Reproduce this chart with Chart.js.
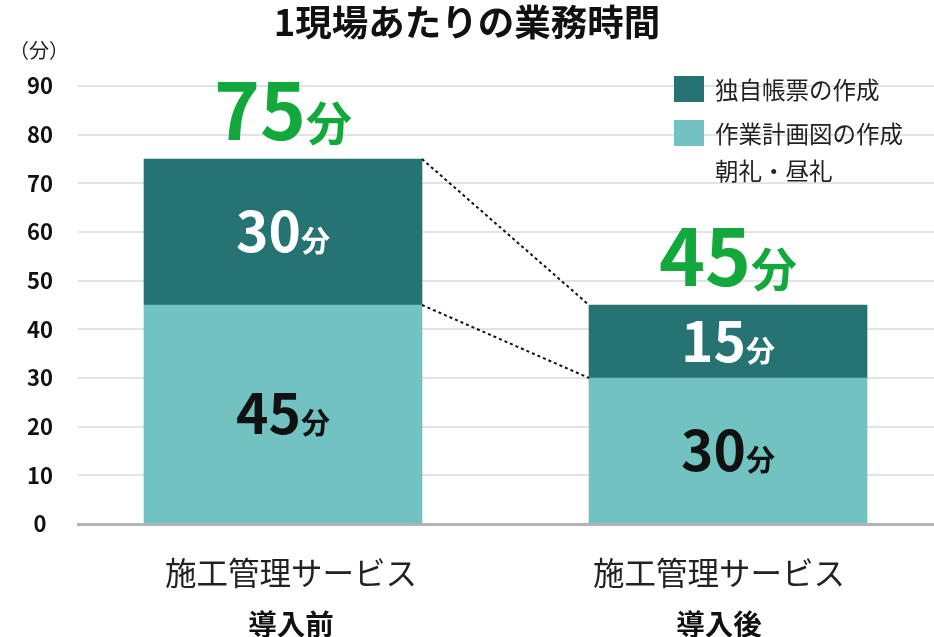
<!DOCTYPE html>
<html lang="ja">
<head>
<meta charset="utf-8">
<script src="https://cdn.jsdelivr.net/npm/chart.js@4/dist/chart.umd.min.js"></script>
<style>
  html, body { margin: 0; padding: 0; background: #ffffff; }
  #wrap { width: 934px; height: 637px; position: relative; }
</style>
</head>
<body>
<div id="wrap"><canvas id="c"></canvas></div>
<script>
// ---- data ----
const chartTitle = '1現場あたりの業務時間';
const unitLabel = '（分）';
const unitSuffix = '分';
const categoriesTop = ['施工管理サービス', '施工管理サービス'];
const categoriesBottom = ['導入前', '導入後'];
const seriesNames = [['作業計画図の作成', '朝礼・昼礼'], ['独自帳票の作成']];
const planningValues = [45, 30];   // 作業計画図の作成・朝礼・昼礼 (bottom)
const formValues = [30, 15];       // 独自帳票の作成 (top)
const yTicks = [0, 10, 20, 30, 40, 50, 60, 70, 80, 90];

const FONT = '"Noto Sans CJK JP", "Noto Sans", sans-serif';
const LIGHT = '#72C2C2';
const DARK = '#267373';
const GREEN = '#12A83C';

const toPoints = arr => arr.map((v, i) => ({ x: i, y: v }));

const labelPlugin = {
  id: 'labels',
  afterDatasetsDraw(chart) {
    const ctx = chart.ctx;
    const drawVal = (num, cx, baseline, bigSize, smallSize, color) => {
      const s = String(num);
      ctx.font = 'bold ' + bigSize + 'px ' + FONT;
      const w1 = ctx.measureText(s).width;
      ctx.font = 'bold ' + smallSize + 'px ' + FONT;
      const w2 = ctx.measureText(unitSuffix).width;
      const x0 = cx - (w1 + w2) / 2;
      ctx.fillStyle = color;
      ctx.textAlign = 'left';
      ctx.textBaseline = 'alphabetic';
      ctx.font = 'bold ' + bigSize + 'px ' + FONT;
      ctx.fillText(s, x0, baseline);
      ctx.font = 'bold ' + smallSize + 'px ' + FONT;
      ctx.fillText(unitSuffix, x0 + w1, baseline);
    };
    ctx.save();
    const m0 = chart.getDatasetMeta(0).data;
    const m1 = chart.getDatasetMeta(1).data;
    ctx.strokeStyle = '#111';
    ctx.lineWidth = 2;
    ctx.setLineDash([3, 3]);
    [m0, m1].forEach(els => {
      const a = els[0], b = els[1];
      ctx.beginPath();
      ctx.moveTo(a.x + a.width / 2, a.y);
      ctx.lineTo(b.x - b.width / 2, b.y);
      ctx.stroke();
    });
    ctx.setLineDash([]);
    chart.data.datasets.forEach((ds, di) => {
      const meta = chart.getDatasetMeta(di);
      meta.data.forEach((el, i) => {
        const cy = (el.y + el.base) / 2;
        drawVal(ds.data[i].y, el.x, cy + 20, 55, 29, di === 1 ? '#ffffff' : '#111111');
      });
    });
    m1.forEach((el, i) => {
      const total = planningValues[i] + formValues[i];
      drawVal(total, el.x, el.y - 19, 78, 46, GREEN);
    });
    ctx.restore();
  }
};

const decoPlugin = {
  id: 'deco',
  afterDraw(chart) {
    const ctx = chart.ctx;
    ctx.save();
    ctx.fillStyle = '#222';
    ctx.font = '20px ' + FONT;
    ctx.textAlign = 'center';
    ctx.textBaseline = 'middle';
    ctx.fillText(unitLabel, 39, 50);
    const items = [
      { color: DARK, lines: seriesNames[1], y: 89 },
      { color: LIGHT, lines: seriesNames[0], y: 133 }
    ];
    ctx.font = '23.5px ' + FONT;
    ctx.textAlign = 'left';
    items.forEach(it => {
      ctx.fillStyle = it.color;
      ctx.fillRect(674, it.y - 13, 30, 26);
      ctx.fillStyle = '#222';
      it.lines.forEach((ln, k) => ctx.fillText(ln, 715, it.y + 1 + k * 37));
    });
    ctx.restore();
  }
};

// scale ranges (layout only)
const xMin = -0.4607, xMax = 1.4629;
const lblMin = -0.4977, lblMax = 1.5023;
const fixRange = (mn, mx) => ax => { ax.min = mn; ax.max = mx; };

const labelAxis = (labels, mn, mx, height, pad, font, color) => ({
  type: 'linear',
  offset: false,
  min: mn, max: mx,
  position: 'bottom',
  afterDataLimits: fixRange(mn, mx),
  afterBuildTicks: ax => { fixRange(mn, mx)(ax); ax.ticks = labels.map((c, i) => ({ value: i })); },
  afterFit: ax => { ax.height = height; },
  grid: { display: false, drawTicks: false, offset: false },
  border: { display: false },
  ticks: {
    callback: v => labels[v],
    padding: pad,
    maxRotation: 0, autoSkip: false,
    color: color,
    font: font
  }
});

new Chart(document.getElementById('c'), {
  type: 'bar',
  data: {
    datasets: [
      { label: seriesNames[0].join(' '), data: toPoints(planningValues), backgroundColor: LIGHT, barThickness: 278, xAxisID: 'x', yAxisID: 'y' },
      { label: seriesNames[1].join(' '), data: toPoints(formValues), backgroundColor: DARK, barThickness: 278, xAxisID: 'x', yAxisID: 'y' }
    ]
  },
  options: {
    responsive: true,
    maintainAspectRatio: false,
    animation: false,
    layout: { padding: 0 },
    plugins: {
      legend: { display: false },
      tooltip: { enabled: false },
      title: {
        display: true,
        text: chartTitle,
        color: '#111',
        font: { family: FONT, size: 36.5, weight: 'bold', lineHeight: 1.2 },
        padding: { top: 0, bottom: 42.2 }
      }
    },
    scales: {
      x: {
        type: 'linear',
        stacked: true,
        offset: false,
        min: xMin, max: xMax,
        position: 'bottom',
        afterDataLimits: fixRange(xMin, xMax),
        afterBuildTicks: ax => { fixRange(xMin, xMax)(ax); ax.ticks = categoriesTop.map((c, i) => ({ value: i })); },
        afterFit: ax => { ax.height = 0; },
        grid: { display: false, drawTicks: false, offset: false },
        border: { display: true, color: '#b4b4b4', width: 3 },
        ticks: { display: false }
      },
      xa: labelAxis(categoriesTop, lblMin, lblMax, 67, 30, { family: FONT, size: 31.5, lineHeight: 1.2 }, '#222'),
      xb: labelAxis(categoriesBottom, lblMin, lblMax, 46, 16, { family: FONT, size: 28.5, weight: 'bold', lineHeight: 1.2 }, '#111'),
      y: {
        stacked: true,
        min: 0, max: 90,
        afterBuildTicks: ax => { ax.ticks = yTicks.map(v => ({ value: v })); },
        afterFit: ax => { ax.width = 78; },
        grid: { color: '#e3e3e3', lineWidth: 2, drawTicks: false },
        border: { display: false },
        ticks: {
          padding: 25,
          crossAlign: 'center',
          color: '#111',
          font: { family: FONT, size: 22, weight: 'bold' }
        }
      }
    }
  },
  plugins: [labelPlugin, decoPlugin]
});
</script>
</body>
</html>
